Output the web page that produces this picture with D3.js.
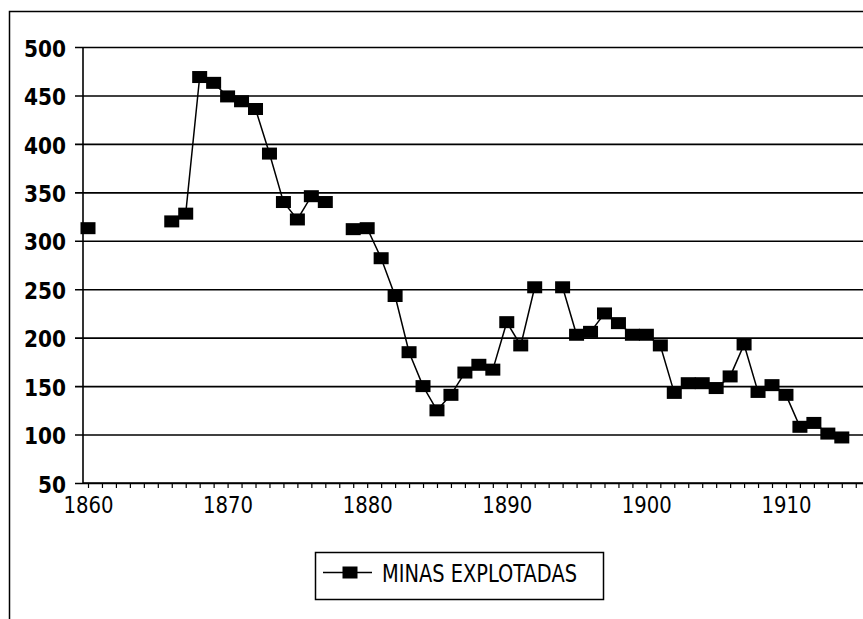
<html lang="es">
  <head>
    <meta charset="UTF-8" />
    <title>Minas explotadas 1860-1914</title>
    <script src="https://d3js.org/d3.v7.min.js"></script>
    <style>
      body { margin: 0; background: #fff; }
      svg { display: block; }
    </style>
  </head>
  <body>
    <svg></svg>
    <script>
      var width = 863;
      var height = 619;

      // data (null = no value that year)
      var years = d3.range(1860, 1915);
      var minas = [
        313, null, null, null, null, null, 320, 328, 469, 463,
        449, 444, 436, 390, 340, 322, 346, 340, null, 312,
        313, 282, 243, 185, 150, 125, 141, 164, 172, 167,
        216, 192, 252, null, 252, 203, 206, 225, 215, 203,
        203, 192, 143, 153, 153, 148, 160, 193, 144, 151,
        141, 108, 112, 101, 97
      ];
      var yTicks = [50, 100, 150, 200, 250, 300, 350, 400, 450, 500];
      var xLabels = [1860, 1870, 1880, 1890, 1900, 1910];
      var seriesName = "MINAS EXPLOTADAS";

      var data = years.map(function (y, i) { return { year: y, value: minas[i] }; });

      var plot = { left: 83, right: 863, top: 47, bottom: 483 };

      var x = d3.scaleLinear().domain([1860, 1914]).range([88, 841.8]);
      var y = d3.scaleLinear().domain([50, 500]).range([plot.bottom, plot.top]);

      var svg = d3.select("svg").attr("width", width).attr("height", height);

      // outer frame (only left and top edges are visible)
      svg.append("path")
        .attr("d", `M9.5,${height} V11.5 H${width}`)
        .attr("fill", "none")
        .attr("stroke", "#000")
        .attr("stroke-width", 1.5);

      // horizontal gridlines
      var yAxis = d3.axisLeft(y)
        .tickValues(yTicks)
        .tickSize(-(plot.right - plot.left))
        .tickPadding(17)
        .tickFormat(d3.format("d"));

      var gy = svg.append("g")
        .attr("transform", `translate(${plot.left},0)`)
        .call(yAxis);
      gy.select(".domain").remove();
      gy.selectAll(".tick line")
        .attr("x1", -8)
        .attr("stroke", "#000")
        .attr("stroke-width", 1.6);
      gy.selectAll(".tick text")
        .attr("dy", "0.4em")
        .attr("textLength", 42)
        .attr("lengthAdjust", "spacingAndGlyphs")
        .style("font-family", "'DejaVu Sans', sans-serif")
        .style("font-weight", "bold")
        .style("font-size", "23px")
        .attr("fill", "#000");
      gy.selectAll(".tick").filter(function (d) { return d === 50; })
        .select("text").attr("textLength", 28);

      // y axis line
      svg.append("line")
        .attr("x1", plot.left).attr("x2", plot.left)
        .attr("y1", plot.top).attr("y2", plot.bottom)
        .attr("stroke", "#000").attr("stroke-width", 1.6);

      // x axis with a tick every year
      var xAxis = d3.axisBottom(x)
        .tickValues(d3.range(1860, 1916))
        .tickSize(5)
        .tickSizeOuter(0)
        .tickPadding(9)
        .tickFormat(function (d) { return xLabels.indexOf(d) >= 0 ? d : ""; });

      var gx = svg.append("g")
        .attr("transform", `translate(0,${plot.bottom})`)
        .call(xAxis);
      gx.select(".domain")
        .attr("d", `M${plot.left},0H${plot.right}`)
        .attr("stroke", "#000")
        .attr("stroke-width", 1.6);
      gx.selectAll(".tick line").attr("stroke", "#000").attr("stroke-width", 1.2);
      gx.selectAll(".tick text")
        .filter(function (d) { return xLabels.indexOf(d) >= 0; })
        .attr("textLength", 50)
        .attr("lengthAdjust", "spacingAndGlyphs")
        .style("font-family", "'DejaVu Sans', sans-serif")
        .style("font-size", "23px")
        .attr("fill", "#000");

      // series line, broken where a year is missing
      var line = d3.line()
        .defined(function (d) { return d.value != null; })
        .x(function (d) { return x(d.year); })
        .y(function (d) { return y(d.value); });

      svg.append("path")
        .datum(data)
        .attr("fill", "none")
        .attr("stroke", "#000")
        .attr("stroke-width", 1.5)
        .attr("d", line);

      var mw = 15, mh = 12;
      svg.append("g")
        .selectAll("rect")
        .data(data.filter(function (d) { return d.value != null; }))
        .join("rect")
        .attr("x", function (d) { return x(d.year) - mw / 2; })
        .attr("y", function (d) { return y(d.value) - mh / 2; })
        .attr("width", mw)
        .attr("height", mh)
        .attr("fill", "#000");

      // legend
      var legend = svg.append("g").attr("transform", "translate(315,552)");
      legend.append("rect")
        .attr("x", 0.5).attr("y", 0.5)
        .attr("width", 288).attr("height", 47)
        .attr("fill", "#fff")
        .attr("stroke", "#000")
        .attr("stroke-width", 1.5);
      legend.append("line")
        .attr("x1", 8).attr("x2", 57)
        .attr("y1", 20.5).attr("y2", 20.5)
        .attr("stroke", "#000").attr("stroke-width", 1.5);
      legend.append("rect")
        .attr("x", 35 - mw / 2).attr("y", 20.5 - mh / 2)
        .attr("width", mw).attr("height", mh)
        .attr("fill", "#000");
      legend.append("text")
        .attr("x", 67)
        .attr("y", 30)
        .attr("textLength", 195)
        .attr("lengthAdjust", "spacingAndGlyphs")
        .style("font-family", "'DejaVu Sans', sans-serif")
        .style("font-size", "25px")
        .attr("fill", "#000")
        .text(seriesName);
    </script>
  </body>
</html>
